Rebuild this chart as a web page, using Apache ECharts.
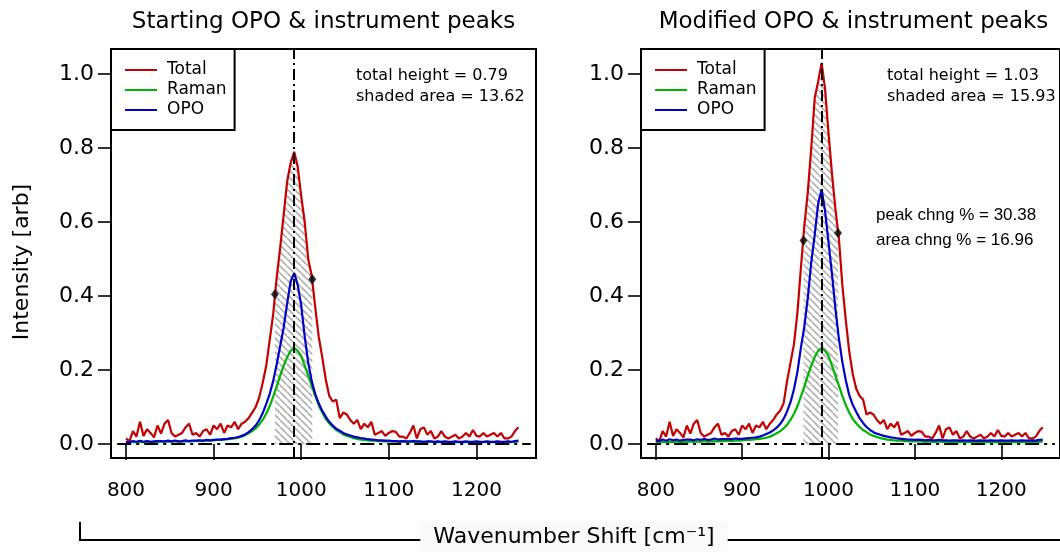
<!DOCTYPE html>
<html><head><meta charset="utf-8">
<script src="https://cdn.jsdelivr.net/npm/echarts@6/dist/echarts.min.js"></script>
<style>html,body{margin:0;padding:0;background:#fff}#c{width:1060px;height:552px}</style>
</head><body><div id="c"></div>
<script>
// ---------------- data ----------------
const wavenumber = [
800,804,808,812,816,820,824,828,832,836,
840,844,848,852,856,860,864,868,872,876,
880,884,888,892,896,900,904,908,912,916,
920,924,928,932,936,940,944,948,952,956,
960,964,968,972,976,980,984,988,992,996,
1000,1004,1008,1012,1016,1020,1024,1028,1032,1036,
1040,1044,1048,1052,1056,1060,1064,1068,1072,1076,
1080,1084,1088,1092,1096,1100,1104,1108,1112,1116,
1120,1124,1128,1132,1136,1140,1144,1148,1152,1156,
1160,1164,1168,1172,1176,1180,1184,1188,1192,1196,
1200,1204,1208,1212,1216,1220,1224,1228,1232,1236,
1240,1244,1248];

const raman = [
.005,.004,.006,.005,.006,.005,.007,.005,.006,.006,
.007,.006,.007,.006,.008,.006,.007,.008,.007,.008,
.008,.009,.008,.010,.009,.010,.011,.011,.012,.013,
.014,.015,.017,.020,.024,.029,.035,.042,.052,.065,
.082,.102,.128,.155,.185,.212,.235,.252,.260,.252,
.238,.212,.185,.158,.130,.105,.085,.068,.056,.046,
.038,.032,.026,.022,.019,.016,.014,.012,.011,.010,
.009,.009,.008,.008,.007,.008,.007,.007,.006,.007,
.006,.006,.007,.006,.006,.005,.006,.006,.005,.006,
.005,.006,.005,.005,.006,.005,.005,.006,.005,.005,
.006,.005,.005,.006,.005,.005,.006,.005,.005,.006,
.005,.006,.007];

const opoStart = [
.006,.005,.008,.006,.009,.006,.008,.006,.007,.008,
.008,.007,.009,.007,.009,.007,.008,.010,.008,.009,
.009,.010,.009,.011,.010,.011,.012,.012,.013,.014,
.016,.017,.019,.022,.026,.032,.040,.050,.064,.083,
.108,.135,.170,.215,.265,.315,.380,.440,.462,.430,
.375,.290,.220,.170,.135,.110,.090,.074,.060,.050,
.041,.036,.030,.026,.023,.020,.018,.016,.015,.013,
.012,.011,.010,.010,.009,.009,.008,.008,.007,.008,
.007,.007,.008,.007,.007,.006,.007,.007,.006,.007,
.006,.007,.006,.006,.007,.006,.006,.007,.006,.006,
.007,.006,.006,.007,.006,.006,.007,.006,.006,.007,
.006,.008,.009];

const totalStart = [
.015,.008,.035,.020,.060,.022,.040,.030,.018,.050,
.028,.055,.065,.030,.020,.025,.030,.045,.055,.025,
.030,.020,.035,.040,.025,.050,.040,.055,.030,.050,
.045,.060,.040,.055,.060,.070,.085,.100,.125,.165,
.210,.280,.350,.450,.530,.620,.710,.760,.790,.750,
.670,.600,.500,.455,.370,.290,.235,.175,.130,.115,
.120,.070,.085,.080,.065,.055,.065,.040,.055,.045,
.060,.025,.030,.035,.022,.030,.035,.033,.020,.020,
.015,.030,.050,.015,.040,.045,.025,.035,.015,.020,
.035,.020,.015,.020,.025,.015,.020,.030,.020,.038,
.022,.020,.030,.020,.025,.030,.020,.030,.015,.015,
.020,.035,.045];

const opoModified = [
.010,.008,.012,.009,.013,.010,.012,.009,.011,.012,
.012,.010,.013,.011,.014,.011,.012,.015,.012,.013,
.013,.014,.013,.015,.014,.014,.015,.016,.017,.018,
.020,.023,.027,.031,.037,.044,.054,.068,.088,.113,
.148,.195,.260,.317,.395,.490,.565,.650,.688,.630,
.545,.460,.365,.285,.222,.172,.132,.106,.087,.070,
.057,.046,.038,.032,.028,.025,.022,.020,.018,.017,
.015,.014,.013,.012,.012,.011,.012,.011,.010,.011,
.010,.010,.011,.010,.010,.009,.010,.010,.009,.010,
.009,.010,.009,.009,.010,.009,.009,.010,.009,.009,
.010,.009,.009,.010,.009,.009,.010,.009,.009,.010,
.009,.011,.012];

const totalModified = [
.015,.008,.035,.020,.060,.022,.040,.030,.018,.050,
.028,.055,.065,.030,.020,.025,.030,.045,.055,.025,
.030,.020,.035,.040,.025,.050,.040,.055,.030,.050,
.045,.060,.040,.055,.065,.080,.090,.110,.170,.220,
.270,.355,.475,.590,.680,.800,.935,.980,1.030,.960,
.840,.730,.635,.555,.430,.335,.250,.190,.150,.130,
.120,.080,.085,.080,.065,.055,.065,.040,.055,.045,
.060,.025,.030,.035,.022,.030,.035,.033,.020,.020,
.015,.030,.050,.015,.040,.045,.025,.035,.015,.020,
.035,.020,.015,.020,.025,.015,.020,.030,.020,.038,
.022,.020,.030,.020,.025,.030,.020,.030,.015,.015,
.020,.035,.045];

const xTicks = [800, 900, 1000, 1100, 1200];
const yTicks = [0, 0.2, 0.4, 0.6, 0.8, 1.0];
const peakCenter = 992;
const zeroLineX = [790, 1262];
const edgesStart = [[970, 0.405], [1012.7, 0.445]];
const edgesModified = [[971, 0.55], [1011, 0.57]];
const seriesNames = ['Total', 'Raman', 'OPO'];
const panelTitles = ['Starting OPO & instrument peaks', 'Modified OPO & instrument peaks'];
const statsStart = ['total height = 0.79', 'shaded area = 13.62'];
const statsModified = ['total height = 1.03', 'shaded area = 15.93'];
const changeText = ['peak chng % = 30.38', 'area chng % = 16.96'];
const yTitle = 'Intensity [arb]';
const xTitle = 'Wavenumber Shift [cm\u207B\u00B9]';

// ---------------- chart ----------------
const FONT = 'DejaVu Sans';
const RED = '#c40000', GREEN = '#00b400', BLUE = '#0000c8';

function pairs(ys) { return wavenumber.map((x, i) => [x, ys[i]]); }
function shade(ys, edges) {
  const inner = pairs(ys).filter(p => p[0] > edges[0][0] && p[0] < edges[1][0]);
  return [edges[0]].concat(inner, [edges[1]]);
}

const pc = document.createElement('canvas');
pc.width = 7; pc.height = 7;
const g = pc.getContext('2d');
g.strokeStyle = '#b2b2b2'; g.lineWidth = 1.7;
[-7, 0, 7].forEach(k => { g.beginPath(); g.moveTo(k, 0); g.lineTo(k + 7, 7); g.stroke(); });

const panelLeft = [111, 641];
const gridW = 425, gridTop = 49, gridH = 409;

const grids = panelLeft.map(l => ({
  left: l, top: gridTop, width: gridW, height: gridH, show: true,
  borderColor: '#000', borderWidth: 2, backgroundColor: 'transparent', containLabel: false
}));

const xAxes = [0, 1].map(i => ({
  type: 'value', gridIndex: i, min: 782.9, max: 1268,
  splitLine: { show: false }, axisLine: { show: false },
  axisTick: { show: true, customValues: xTicks, length: 16, lineStyle: { color: '#000', width: 1.6 } },
  axisLabel: { customValues: xTicks, margin: 23, fontSize: 20, color: '#000', fontFamily: FONT,
    formatter: v => String(v) }
}));
const yAxes = [0, 1].map(i => ({
  type: 'value', gridIndex: i, min: -0.0378, max: 1.0676,
  splitLine: { show: false }, axisLine: { show: false },
  axisTick: { show: true, customValues: yTicks, length: 13, lineStyle: { color: '#000', width: 1.6 } },
  axisLabel: { customValues: yTicks, margin: 17, fontSize: 22, color: '#000', fontFamily: FONT,
    formatter: v => v.toFixed(1) }
}));

function panelSeries(i, total, opo, edges) {
  const ax = { xAxisIndex: i, yAxisIndex: i };
  return [
    Object.assign({ type: 'line', data: shade(total, edges), symbol: 'none', silent: true, z: 1,
      lineStyle: { width: 0 }, areaStyle: { color: { image: pc, repeat: 'repeat' }, opacity: 1 } }, ax),
    Object.assign({ name: 'Total', type: 'line', data: pairs(total), symbol: 'none', z: 3,
      lineStyle: { color: RED, width: 2.2 }, itemStyle: { color: RED } }, ax),
    Object.assign({ name: 'Raman', type: 'line', data: pairs(raman), symbol: 'none', z: 3,
      lineStyle: { color: GREEN, width: 2.2 }, itemStyle: { color: GREEN } }, ax),
    Object.assign({ name: 'OPO', type: 'line', data: pairs(opo), symbol: 'none', z: 3,
      lineStyle: { color: BLUE, width: 2.2 }, itemStyle: { color: BLUE } }, ax),
    Object.assign({ type: 'scatter', data: edges, symbol: 'diamond', symbolSize: [8, 10], z: 5, silent: true,
      itemStyle: { color: '#000' },
      markLine: { silent: true, symbol: ['none', 'none'], label: { show: false },
        lineStyle: { color: '#000', width: 2, opacity: 1 },
        data: [
          { xAxis: peakCenter, lineStyle: { type: [11, 4, 2, 4] } },
          [{ coord: [zeroLineX[0], 0], lineStyle: { type: [14, 5, 3, 5] } }, { coord: [zeroLineX[1], 0] }]
        ] } }, ax)
  ];
}

const legends = panelLeft.map(l => ({
  left: l, top: gridTop, orient: 'vertical', data: seriesNames, selectedMode: false,
  icon: 'rect', itemWidth: 32, itemHeight: 2, itemGap: 0,
  padding: [11, 8, 10, 14], borderColor: '#000', borderWidth: 2, backgroundColor: '#fff',
  textStyle: { fontSize: 17, fontFamily: FONT, color: '#000', padding: [0, 0, 0, 5], lineHeight: 20 }
}));

function txt(x, y, text, size, align, family, extra) {
  return Object.assign({ type: 'text', x: x, y: y, z: 100, silent: true,
    style: Object.assign({ text: text, fontSize: size, fontFamily: family || FONT, fill: '#000',
      textAlign: align || 'left', textVerticalAlign: 'middle' }, extra || {}) });
}

const graphics = [
  txt(panelLeft[0] + gridW / 2, 22, panelTitles[0], 23, 'center'),
  txt(panelLeft[1] + gridW / 2, 22, panelTitles[1], 23, 'center'),
  Object.assign(txt(22, 262, yTitle, 22, 'center'), { rotation: Math.PI / 2 }),
  { type: 'polyline', z: 50, silent: true, shape: { points: [[80, 522], [80, 540], [1062, 540]] },
    style: { stroke: '#000', lineWidth: 2, fill: null } },
  txt(574, 537, xTitle, 22, 'center', FONT, { backgroundColor: '#fafafa', padding: [5, 13, 5, 13] }),
  txt(356, 76, statsStart[0], 16), txt(356, 97, statsStart[1], 16),
  txt(887, 76, statsModified[0], 16), txt(887, 97, statsModified[1], 16),
  txt(876, 215, changeText[0], 17, 'left', 'Liberation Sans'),
  txt(876, 240, changeText[1], 17, 'left', 'Liberation Sans')
];

const chart = echarts.init(document.getElementById('c'), null, { renderer: 'canvas' });
chart.setOption({
  animation: false,
  backgroundColor: '#fff',
  grid: grids, xAxis: xAxes, yAxis: yAxes, legend: legends,
  series: panelSeries(0, totalStart, opoStart, edgesStart)
    .concat(panelSeries(1, totalModified, opoModified, edgesModified)),
  graphic: graphics
});
</script></body></html>
